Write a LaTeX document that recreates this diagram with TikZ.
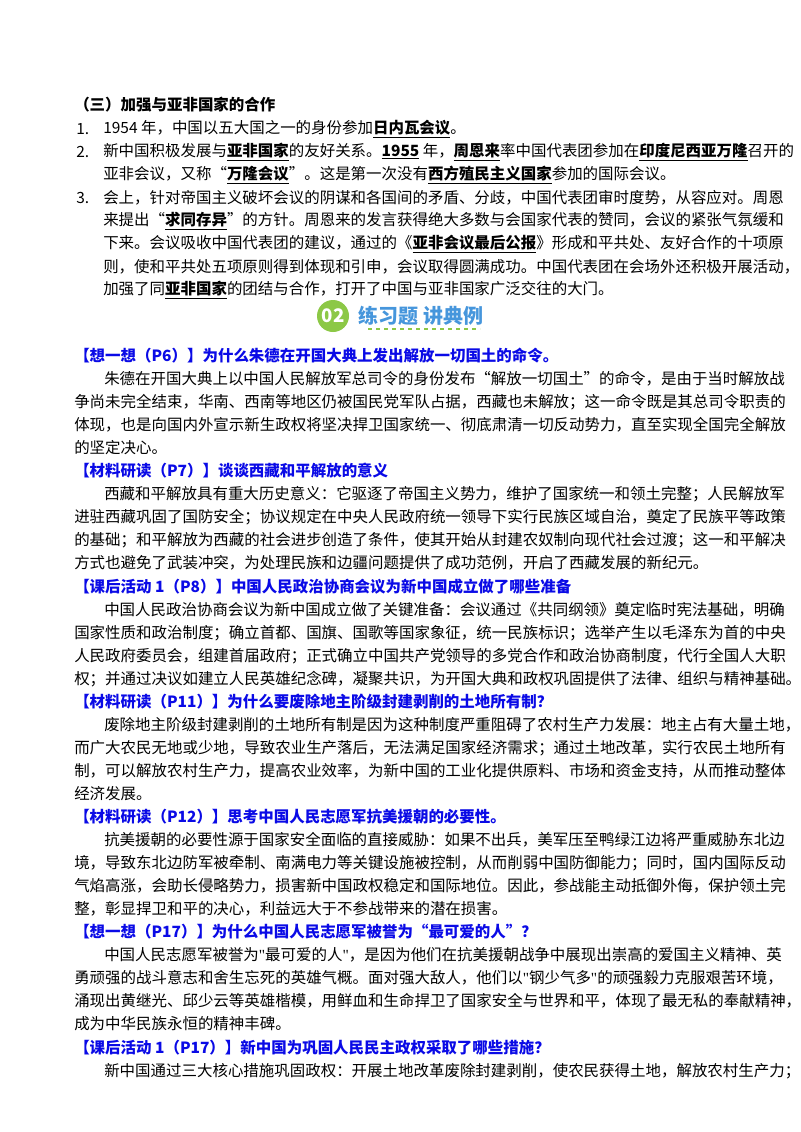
\documentclass[tikz,border=0pt]{standalone}
\usepackage{fontspec}
\setmainfont{Noto Sans CJK SC}
\newfontfamily\latq{Liberation Serif}
\definecolor{hb}{RGB}{10,10,230}
\definecolor{gr}{RGB}{140,200,70}
\definecolor{bl}{RGB}{70,150,220}
\newcommand{\ub}[1]{\underline{\textbf{#1}}}
\newcommand{\sq}{{\latq\char34}}
\tikzset{ln/.style={anchor=west,inner sep=0pt,font=\fontsize{11.6}{14}\selectfont},
 hd/.style={ln,text=hb,font=\fontsize{11.6}{14}\selectfont\bfseries}}
\begin{document}
\begin{tikzpicture}[x=0.75pt,y=-0.75pt]
\useasboundingbox (0,0) rectangle (800,1132);
\fill[white] (0,0) rectangle (800,1132);
\node[ln,font=\fontsize{11.6}{14}\selectfont\bfseries] (h3) at (74,105) {（三）加强与亚非国家的合作};
\node[ln] (n1) at (76,129) {1.};
\node[ln] (a1) at (103,129) {1954 年，中国以五大国之一的身份参加\ub{日内瓦会议}。};
\node[ln] (n2) at (76,152) {2.};
\node[ln] (a2) at (103,152) {新中国积极发展与\ub{亚非国家}的友好关系。\ub{1955} 年，\ub{周恩来}率中国代表团参加在\ub{印度尼西亚万隆}召开的};
\node[ln] (a3) at (103,175) {亚非会议，又称“\ub{万隆会议}”。这是第一次没有\ub{西方殖民主义国家}参加的国际会议。};
\node[ln] (n3) at (76,198) {3.};
\node[ln] (b1) at (103,198) {会上，针对帝国主义破坏会议的阴谋和各国间的矛盾、分歧，中国代表团审时度势，从容应对。周恩};
\node[ln] (b2) at (103,221) {来提出“\ub{求同存异}”的方针。周恩来的发言获得绝大多数与会国家代表的赞同，会议的紧张气氛缓和};
\node[ln] (b3) at (103,244) {下来。会议吸收中国代表团的建议，通过的《\ub{亚非会议最后公报}》形成和平共处、友好合作的十项原};
\node[ln] (b4) at (103,267) {则，使和平共处五项原则得到体现和引申，会议取得圆满成功。中国代表团在会场外还积极开展活动，};
\node[ln] (b5) at (103,290) {加强了同\ub{亚非国家}的团结与合作，打开了中国与亚非国家广泛交往的大门。};
% banner
\fill[gr] (333,316) circle (16);
\node[text=white,font=\fontsize{14}{16}\selectfont\bfseries] (c02) at (333,316) {02};
\node[anchor=west,text=bl,font=\fontsize{15}{17}\selectfont\bfseries] (bt) at (354,316) {练习题 讲典例};
\draw[gr,dashed,line width=1.2pt] (368,329) -- (480,329);
% sections
\node[hd] (q1) at (74,356) {【想一想（P6）】为什么朱德在开国大典上发出解放一切国土的命令。};
\node[ln] at (104,379) {朱德在开国大典上以中国人民解放军总司令的身份发布“解放一切国土”的命令，是由于当时解放战};
\node[ln] at (74,402) {争尚未完全结束，华南、西南等地区仍被国民党军队占据，西藏也未解放；这一命令既是其总司令职责的};
\node[ln] at (74,425) {体现，也是向国内外宣示新生政权将坚决捍卫国家统一、彻底肃清一切反动势力，直至实现全国完全解放};
\node[ln] at (74,448) {的坚定决心。};
\node[hd] (q2) at (74,471) {【材料研读（P7）】谈谈西藏和平解放的意义};
\node[ln] at (104,494) {西藏和平解放具有重大历史意义：它驱逐了帝国主义势力，维护了国家统一和领土完整；人民解放军};
\node[ln] at (74,517) {进驻西藏巩固了国防安全；协议规定在中央人民政府统一领导下实行民族区域自治，奠定了民族平等政策};
\node[ln] at (74,540) {的基础；和平解放为西藏的社会进步创造了条件，使其开始从封建农奴制向现代社会过渡；这一和平解决};
\node[ln] at (74,563) {方式也避免了武装冲突，为处理民族和边疆问题提供了成功范例，开启了西藏发展的新纪元。};
\node[hd] (q3) at (74,587) {【课后活动 1（P8）】中国人民政治协商会议为新中国成立做了哪些准备};
\node[ln] at (104,610) {中国人民政治协商会议为新中国成立做了关键准备：会议通过《共同纲领》奠定临时宪法基础，明确};
\node[ln] at (74,633) {国家性质和政治制度；确立首都、国旗、国歌等国家象征，统一民族标识；选举产生以毛泽东为首的中央};
\node[ln] at (74,656) {人民政府委员会，组建首届政府；正式确立中国共产党领导的多党合作和政治协商制度，代行全国人大职};
\node[ln] at (74,679) {权；并通过决议如建立人民英雄纪念碑，凝聚共识，为开国大典和政权巩固提供了法律、组织与精神基础。};
\node[hd] (q4) at (74,702) {【材料研读（P11）】为什么要废除地主阶级封建剥削的土地所有制？};
\node[ln] at (104,725) {废除地主阶级封建剥削的土地所有制是因为这种制度严重阻碍了农村生产力发展：地主占有大量土地，};
\node[ln] at (74,748) {而广大农民无地或少地，导致农业生产落后，无法满足国家经济需求；通过土地改革，实行农民土地所有};
\node[ln] at (74,771) {制，可以解放农村生产力，提高农业效率，为新中国的工业化提供原料、市场和资金支持，从而推动整体};
\node[ln] at (74,794) {经济发展。};
\node[hd] (q5) at (74,817) {【材料研读（P12）】思考中国人民志愿军抗美援朝的必要性。};
\node[ln] at (104,840) {抗美援朝的必要性源于国家安全面临的直接威胁：如果不出兵，美军压至鸭绿江边将严重威胁东北边};
\node[ln] at (74,863) {境，导致东北边防军被牵制、南满电力等关键设施被控制，从而削弱中国防御能力；同时，国内国际反动};
\node[ln] at (74,886) {气焰高涨，会助长侵略势力，损害新中国政权稳定和国际地位。因此，参战能主动抵御外侮，保护领土完};
\node[ln] at (74,909) {整，彰显捍卫和平的决心，利益远大于不参战带来的潜在损害。};
\node[hd] (q6) at (74,932) {【想一想（P17）】为什么中国人民志愿军被誉为“最可爱的人”？};
\node[ln] at (104,955) {中国人民志愿军被誉为\sq 最可爱的人\sq ，是因为他们在抗美援朝战争中展现出崇高的爱国主义精神、英};
\node[ln] at (74,978) {勇顽强的战斗意志和舍生忘死的英雄气概。面对强大敌人，他们以\sq 钢少气多\sq 的顽强毅力克服艰苦环境，};
\node[ln] at (74,1001) {涌现出黄继光、邱少云等英雄楷模，用鲜血和生命捍卫了国家安全与世界和平，体现了最无私的奉献精神，};
\node[ln] at (74,1024) {成为中华民族永恒的精神丰碑。};
\node[hd] (q7) at (74,1048) {【课后活动 1（P17）】新中国为巩固人民民主政权采取了哪些措施？};
\node[ln] at (104,1071) {新中国通过三大核心措施巩固政权：开展土地改革废除封建剥削，使农民获得土地，解放农村生产力；};
\end{tikzpicture}
\end{document}
